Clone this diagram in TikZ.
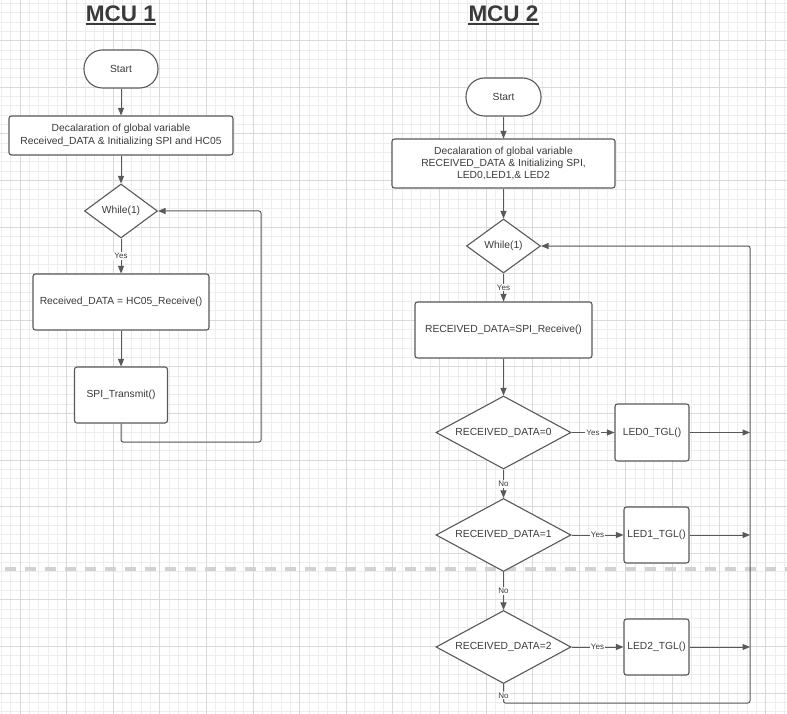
\documentclass[tikz,border=0pt]{standalone}
\usepackage{fontspec}
\setmainfont{Liberation Sans}
\usetikzlibrary{shapes.geometric,arrows.meta}
\definecolor{lineg}{HTML}{595959}
\definecolor{textg}{HTML}{3A3A3A}
\definecolor{gridmin}{HTML}{EDEDED}
\definecolor{gridmaj}{HTML}{D9D9D9}
\definecolor{pagebrk}{HTML}{D2D2D2}
\begin{document}
\begin{tikzpicture}[x=1pt,y=-1pt,
  box/.style={draw=lineg,line width=1.1pt,rounded corners=2.5pt,fill=white,text=textg,align=center,inner sep=1pt,font=\fontsize{10.3}{12.4}\selectfont},
  term/.style={box,rounded corners=18.5pt},
  cond/.style={diamond,draw=lineg,line width=1.1pt,fill=white,text=textg,inner sep=1pt,font=\fontsize{10.3}{12.4}\selectfont},
  arr/.style={draw=lineg,line width=1pt,-{Triangle[length=7.5pt,width=6pt]}},
  lbl/.style={fill=white,text=textg,inner sep=1pt,font=\fontsize{8}{9}\selectfont},
  title/.style={anchor=base,inner sep=0pt,text=textg,font=\fontsize{22.5}{26}\selectfont\bfseries}]
\useasboundingbox (0,0) rectangle (787,714);
\fill[white] (0,0) rectangle (787,714);
\foreach \i in {-2,...,82} \draw[gridmin,line width=0.8pt] ({20+9.32*\i},0) -- ({20+9.32*\i},714);
\foreach \j in {-4,...,72} \draw[gridmin,line width=0.8pt] (0,{40.6+9.32*\j}) -- (787,{40.6+9.32*\j});
\foreach \i in {0,...,16} \draw[gridmaj,line width=0.9pt] ({20+46.6*\i},0) -- ({20+46.6*\i},714);
\foreach \j in {0,...,14} \draw[gridmaj,line width=0.9pt] (0,{40.6+46.6*\j}) -- (787,{40.6+46.6*\j});
\draw[pagebrk,line width=3.5pt,dash pattern=on 11pt off 9pt] (5,569) -- (787,569);

\node[title] (mcu1) at (121,21.7) {MCU 1};
\draw[textg,line width=2.2pt] ([yshift=-2.4pt]mcu1.base west) -- ([yshift=-2.4pt]mcu1.base east);
\node[term,minimum width=74pt,minimum height=38pt] (start1) at (121,69) {Start};
\node[box,minimum width=224pt,minimum height=39pt] (init1) at (121,135.5) {Decalaration of global variable\\Received\_DATA \& Initializing SPI and HC05};
\node[cond,aspect=1.35,minimum width=73pt,minimum height=54pt] (while1) at (121,211) {While(1)};
\node[box,minimum width=176pt,minimum height=56pt] (recv1) at (121,302) {Received\_DATA = HC05\_Receive()};
\node[box,minimum width=93pt,minimum height=56pt] (spi1) at (121,395) {SPI\_Transmit()};
\coordinate (back1) at (261,442);
\draw[arr] (start1) -- (init1);
\draw[arr] (init1) -- (while1);
\draw[arr] (while1) -- node[lbl]{Yes} (recv1);
\draw[arr] (recv1) -- (spi1);
\draw[arr,rounded corners=2pt] (spi1.south) |- (back1) |- (while1.east);

\node[title] (mcu2) at (503.5,21.7) {MCU 2};
\draw[textg,line width=2.2pt] ([yshift=-2.4pt]mcu2.base west) -- ([yshift=-2.4pt]mcu2.base east);
\node[term,minimum width=75pt,minimum height=38pt] (start2) at (503.5,97) {Start};
\node[box,minimum width=223pt,minimum height=49pt] (init2) at (503.5,163.5) {Decalaration of global variable\\RECEIVED\_DATA \& Initializing SPI,\\LED0,LED1,\& LED2};
\node[cond,aspect=1.35,minimum width=74pt,minimum height=54pt] (while2) at (503.5,246) {While(1)};
\node[box,minimum width=177pt,minimum height=56pt] (recv2) at (503.5,330) {RECEIVED\_DATA=SPI\_Receive()};
\node[cond,aspect=1.85,minimum width=135pt,minimum height=73pt] (dec0) at (503.5,432.5) {RECEIVED\_DATA=0};
\node[cond,aspect=1.85,minimum width=135pt,minimum height=73pt] (dec1) at (503.5,535) {RECEIVED\_DATA=1};
\node[cond,aspect=1.85,minimum width=135pt,minimum height=73pt] (dec2) at (503.5,647) {RECEIVED\_DATA=2};
\node[box,minimum width=74pt,minimum height=57pt] (led0) at (652,432.5) {LED0\_TGL()};
\node[box,minimum width=65pt,minimum height=56pt] (led1) at (656.5,535) {LED1\_TGL()};
\node[box,minimum width=65pt,minimum height=56pt] (led2) at (656.5,647) {LED2\_TGL()};
\coordinate (back2) at (503.5,703);
\coordinate (rail) at (750,703);
\draw[arr] (start2) -- (init2);
\draw[arr] (init2) -- (while2);
\draw[arr] (while2) -- node[lbl]{Yes} (recv2);
\draw[arr] (recv2) -- (dec0);
\draw[arr] (dec0) -- node[lbl]{No} (dec1);
\draw[arr] (dec1) -- node[lbl]{No} (dec2);
\draw[arr] (dec0.east) -- node[lbl]{Yes} (led0.west);
\draw[arr] (dec1.east) -- node[lbl]{Yes} (led1.west);
\draw[arr] (dec2.east) -- node[lbl]{Yes} (led2.west);
\draw[arr] (led0.east) -- (led0.east -| rail);
\draw[arr] (led1.east) -- (led1.east -| rail);
\draw[arr] (led2.east) -- (led2.east -| rail);
\draw[arr,rounded corners=2pt] (dec2.south) -- node[lbl,pos=0.6]{No} (back2) -- (rail) |- (while2.east);
\end{tikzpicture}
\end{document}
